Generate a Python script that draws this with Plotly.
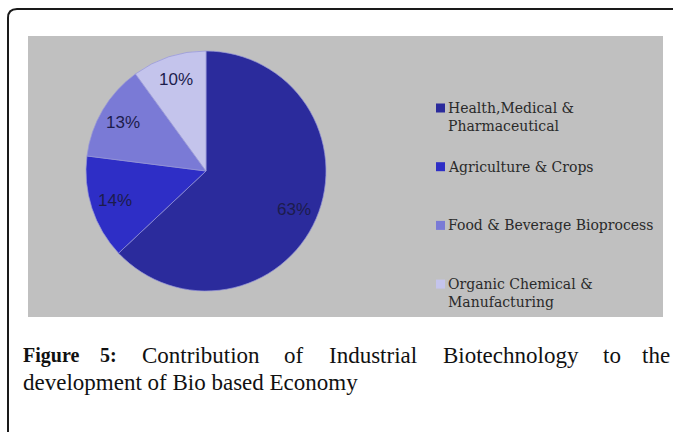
import math
import plotly.graph_objects as go

# ---- data ----
categories = ["Health,Medical &<br>Pharmaceutical", "Agriculture & Crops",
              "Food & Beverage Bioprocess", "Organic Chemical &<br>Manufacturing"]
shares = [63, 14, 13, 10]
colors = ["#2b2b9c", "#2e2ec6", "#7a7ad6", "#c4c4ec"]
caption_words_bold = ["Figure", "5:"]
caption_words_line1 = ["Contribution", "of", "Industrial", "Biotechnology", "to", "the"]
caption_line2 = "development of Bio based Economy"

W, H = 673, 432
def px(x):
    return x / W
def py(y):
    return 1 - y / H

# pie geometry (pixels)
cx, cy, r = 206, 171, 120

fig = go.Figure()
fig.add_trace(go.Pie(
    labels=[c.replace("<br>", " ") for c in categories],
    values=shares,
    marker=dict(colors=colors, line=dict(color="rgba(150,150,215,0.7)", width=1)),
    sort=False, direction="clockwise", rotation=0,
    textinfo="none", hoverinfo="label+percent",
    showlegend=False,
    domain=dict(x=[px(cx - r), px(cx + r)], y=[py(cy + r), py(cy - r)]),
))

annotations = []
shapes = []

# gray chart background
shapes.append(dict(type="rect", xref="paper", yref="paper", layer="below",
                   x0=px(28), x1=px(663), y0=py(317), y1=py(36),
                   fillcolor="#c0c0c0", line=dict(width=0)))
# outer rounded border
shapes.append(dict(type="path", xref="paper", yref="paper",
                   path=f"M {px(8)},{py(445)} L {px(8)},{py(18)} Q {px(8)},{py(9)} {px(17)},{py(9)} L {px(690)},{py(9)}",
                   line=dict(color="#1a1a1a", width=2)))

# pie percentage labels at 0.8 r along mid-angle of each slice
total = sum(shares)
cum = 0
for v in shares:
    mid = (cum + v / 2) / total * 2 * math.pi
    cum += v
    lx = cx + 0.8 * r * math.sin(mid)
    ly = cy - 0.8 * r * math.cos(mid)
    annotations.append(dict(x=px(lx), y=py(ly), xref="paper", yref="paper",
                            xanchor="center", yanchor="middle",
                            text=f"{v}%", showarrow=False,
                            font=dict(family="Liberation Sans, Arial", size=17, color="#1c1c4c")))

# legend (manual)
leg_font = 14
for i, (lab, col) in enumerate(zip(categories, colors)):
    yc = 108 + i * 58.7
    shapes.append(dict(type="rect", xref="paper", yref="paper",
                       x0=px(436), x1=px(445), y0=py(yc + 4.5), y1=py(yc - 4.5),
                       fillcolor=col, line=dict(width=0)))
    annotations.append(dict(x=px(446), y=py(yc - 0.65 * leg_font - 1), xref="paper", yref="paper",
                            xanchor="left", yanchor="top", align="left",
                            text=lab, showarrow=False,
                            font=dict(family="DejaVu Serif", size=leg_font, color="#2a2a2a")))

# caption
cap_font = dict(family="Liberation Serif, Times New Roman", size=23, color="#111111")
bold_font = dict(family="Liberation Serif, Times New Roman", size=20, color="#111111")
line1_y = 355
bold_x = [21, 98]
for w, x in zip(caption_words_bold, bold_x):
    annotations.append(dict(x=px(x), y=py(line1_y), xref="paper", yref="paper",
                            xanchor="left", yanchor="middle", text=f"<b>{w}</b>",
                            showarrow=False, font=bold_font))
word_x = [140, 282, 327, 441, 601]
for w, x in zip(caption_words_line1[:-1], word_x):
    annotations.append(dict(x=px(x), y=py(line1_y), xref="paper", yref="paper",
                            xanchor="left", yanchor="middle", text=w,
                            showarrow=False, font=cap_font))
annotations.append(dict(x=px(672), y=py(line1_y), xref="paper", yref="paper",
                        xanchor="right", yanchor="middle", text=caption_words_line1[-1],
                        showarrow=False, font=cap_font))
annotations.append(dict(x=px(21), y=py(line1_y + 27), xref="paper", yref="paper",
                        xanchor="left", yanchor="middle", text=caption_line2,
                        showarrow=False, font=cap_font))

fig.update_layout(
    width=W, height=H,
    margin=dict(l=0, r=0, t=0, b=0),
    paper_bgcolor="white", plot_bgcolor="white",
    shapes=shapes, annotations=annotations,
    showlegend=False,
)
fig.write_html("out.html", config={"displayModeBar": False},
               post_script="document.body.style.margin='0';document.body.style.overflow='hidden';")
